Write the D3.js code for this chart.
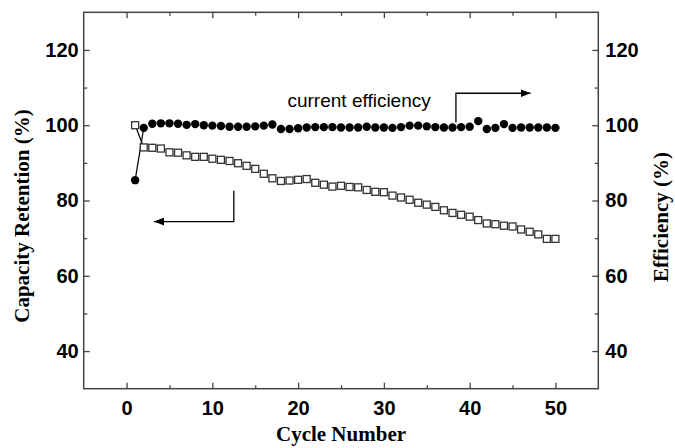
<!DOCTYPE html>
<html>
<head>
<meta charset="utf-8">
<script src="https://cdn.jsdelivr.net/npm/d3@7/dist/d3.min.js"></script>
<style>
  html, body { margin: 0; padding: 0; background: #fff; }
  svg { display: block; }
</style>
</head>
<body>
<svg id="chart" width="675" height="448"></svg>
<script>
// ---- data ----
const cycles = d3.range(1, 51);
const capacityRetention = [100.0, 94.1, 94.0, 93.8, 92.8, 92.7, 92.0, 91.6, 91.6, 91.1,
  90.8, 90.5, 89.9, 89.2, 88.4, 87.1, 85.9, 85.2, 85.3, 85.5,
  85.7, 84.7, 84.2, 83.7, 83.9, 83.6, 83.5, 82.8, 82.3, 82.2,
  81.3, 80.8, 80.2, 79.4, 78.9, 78.3, 77.4, 76.7, 76.2, 75.7,
  74.8, 73.9, 73.7, 73.3, 73.1, 72.3, 71.7, 71.0, 69.8, 69.8];
const efficiency = [85.4, 99.3, 100.4, 100.5, 100.5, 100.4, 100.1, 100.3, 100.0, 99.9,
  99.8, 99.6, 99.6, 99.6, 99.7, 99.9, 100.2, 99.0, 99.0, 99.2,
  99.4, 99.5, 99.5, 99.5, 99.4, 99.4, 99.4, 99.6, 99.4, 99.4,
  99.3, 99.5, 99.9, 99.9, 99.7, 99.5, 99.4, 99.4, 99.5, 99.6,
  101.1, 99.0, 99.3, 100.3, 99.3, 99.4, 99.4, 99.4, 99.4, 99.3];
const xMajorTicks = [0, 10, 20, 30, 40, 50];
const xMinorTicks = [5, 15, 25, 35, 45];
const yMajorTicks = [40, 60, 80, 100, 120];
const yMinorTicks = [50, 70, 90, 110];
const xTitle = "Cycle Number";
const yLeftTitle = "Capacity Retention (%)";
const yRightTitle = "Efficiency (%)";
const noteText = "current efficiency";

// ---- layout ----
const plot = { left: 83.7, right: 598.3, top: 12.3, bottom: 388.7 };
const svg = d3.select("#chart");

const x = d3.scaleLinear().domain([-5, 55]).range([plot.left, plot.right]);
const yL = d3.scaleLinear().domain([30, 130]).range([plot.bottom, plot.top]);
const yR = d3.scaleLinear().domain([30, 130]).range([plot.bottom, plot.top]);

const axisColor = "#444";
const tickFont = "'Liberation Sans', Arial, Helvetica, sans-serif";
const serifFont = "'Liberation Serif', 'Times New Roman', Times, serif";

function styleAxis(g) {
  g.select(".domain").remove();
  g.selectAll(".tick line").attr("stroke", axisColor).attr("stroke-width", 1.3);
  g.selectAll(".tick text")
    .attr("font-family", tickFont)
    .attr("font-weight", "bold")
    .attr("font-size", 20)
    .attr("fill", "#000");
}

// bottom axis
svg.append("g").attr("transform", `translate(0,${plot.bottom})`)
  .call(d3.axisBottom(x).tickValues(xMajorTicks).tickSize(-6).tickPadding(12).tickFormat(d3.format("d")))
  .call(styleAxis);
svg.append("g").attr("transform", `translate(0,${plot.bottom})`)
  .call(d3.axisBottom(x).tickValues(xMinorTicks).tickSize(-3.5).tickFormat(""))
  .call(styleAxis);
// top axis
svg.append("g").attr("transform", `translate(0,${plot.top})`)
  .call(d3.axisTop(x).tickValues(xMajorTicks).tickSize(-6).tickFormat(""))
  .call(styleAxis);
svg.append("g").attr("transform", `translate(0,${plot.top})`)
  .call(d3.axisTop(x).tickValues(xMinorTicks).tickSize(-3.5).tickFormat(""))
  .call(styleAxis);
// left axis
svg.append("g").attr("transform", `translate(${plot.left},0)`)
  .call(d3.axisLeft(yL).tickValues(yMajorTicks).tickSize(-6).tickPadding(5).tickFormat(d3.format("d")))
  .call(styleAxis);
svg.append("g").attr("transform", `translate(${plot.left},0)`)
  .call(d3.axisLeft(yL).tickValues(yMinorTicks).tickSize(-3.5).tickFormat(""))
  .call(styleAxis);
// right axis
svg.append("g").attr("transform", `translate(${plot.right},0)`)
  .call(d3.axisRight(yR).tickValues(yMajorTicks).tickSize(-6).tickPadding(7).tickFormat(d3.format("d")))
  .call(styleAxis);
svg.append("g").attr("transform", `translate(${plot.right},0)`)
  .call(d3.axisRight(yR).tickValues(yMinorTicks).tickSize(-3.5).tickFormat(""))
  .call(styleAxis);

// frame
svg.append("rect")
  .attr("x", plot.left).attr("y", plot.top)
  .attr("width", plot.right - plot.left).attr("height", plot.bottom - plot.top)
  .attr("fill", "none").attr("stroke", axisColor).attr("stroke-width", 1.5);

// connecting lines between first two points
const line = d3.line().x(d => x(d[0])).y(d => d[1]);
svg.append("path")
  .attr("d", line([[cycles[0], yR(efficiency[0])], [cycles[1], yR(efficiency[1])]]))
  .attr("stroke", "#000").attr("stroke-width", 1.2).attr("fill", "none");
svg.append("path")
  .attr("d", line([[cycles[0], yL(capacityRetention[0])], [cycles[1], yL(capacityRetention[1])]]))
  .attr("stroke", "#000").attr("stroke-width", 1.2).attr("fill", "none");

// efficiency circles
svg.append("g").selectAll("circle")
  .data(cycles.map((c, i) => [c, efficiency[i]]))
  .join("circle")
  .attr("cx", d => x(d[0])).attr("cy", d => yR(d[1]))
  .attr("r", 4.2).attr("fill", "#000");

// capacity squares
const sq = 7;
svg.append("g").selectAll("rect")
  .data(cycles.map((c, i) => [c, capacityRetention[i]]))
  .join("rect")
  .attr("x", d => x(d[0]) - sq / 2).attr("y", d => yL(d[1]) - sq / 2)
  .attr("width", sq).attr("height", sq)
  .attr("fill", "#fff").attr("stroke", "#333").attr("stroke-width", 1.3);

// annotations
const defs = svg.append("defs");
defs.append("marker").attr("id", "arrow")
  .attr("viewBox", "0 0 10 8").attr("refX", 10).attr("refY", 4)
  .attr("markerWidth", 10).attr("markerHeight", 8).attr("markerUnits", "userSpaceOnUse")
  .attr("orient", "auto")
  .append("path").attr("d", "M0,0 L10,4 L0,8 Z").attr("fill", "#000");

svg.append("path")
  .attr("d", `M${x(12.5)},${yL(82.6)} V${yL(74.4)} H${x(3.2)}`)
  .attr("stroke", "#000").attr("stroke-width", 1.3).attr("fill", "none")
  .attr("marker-end", "url(#arrow)");
svg.append("path")
  .attr("d", `M${x(38.4)},${yR(100.7)} V${yR(108.5)} H${x(47.1)}`)
  .attr("stroke", "#000").attr("stroke-width", 1.3).attr("fill", "none")
  .attr("marker-end", "url(#arrow)");

svg.append("text")
  .attr("x", x(18.76)).attr("y", yR(104.9))
  .attr("font-family", tickFont).attr("font-size", 19)
  .attr("fill", "#000").text(noteText);

// titles
svg.append("text")
  .attr("x", (plot.left + plot.right) / 2).attr("y", 441)
  .attr("text-anchor", "middle")
  .attr("font-family", serifFont).attr("font-weight", "bold").attr("font-size", 21)
  .text(xTitle);
svg.append("text")
  .attr("transform", `translate(22,216) rotate(-90)`)
  .attr("text-anchor", "middle").attr("dominant-baseline", "central")
  .attr("font-family", serifFont).attr("font-weight", "bold").attr("font-size", 21)
  .text(yLeftTitle);
svg.append("text")
  .attr("transform", `translate(661,217) rotate(-90)`)
  .attr("text-anchor", "middle").attr("dominant-baseline", "central")
  .attr("font-family", serifFont).attr("font-weight", "bold").attr("font-size", 21)
  .text(yRightTitle);
</script>
</body>
</html>
